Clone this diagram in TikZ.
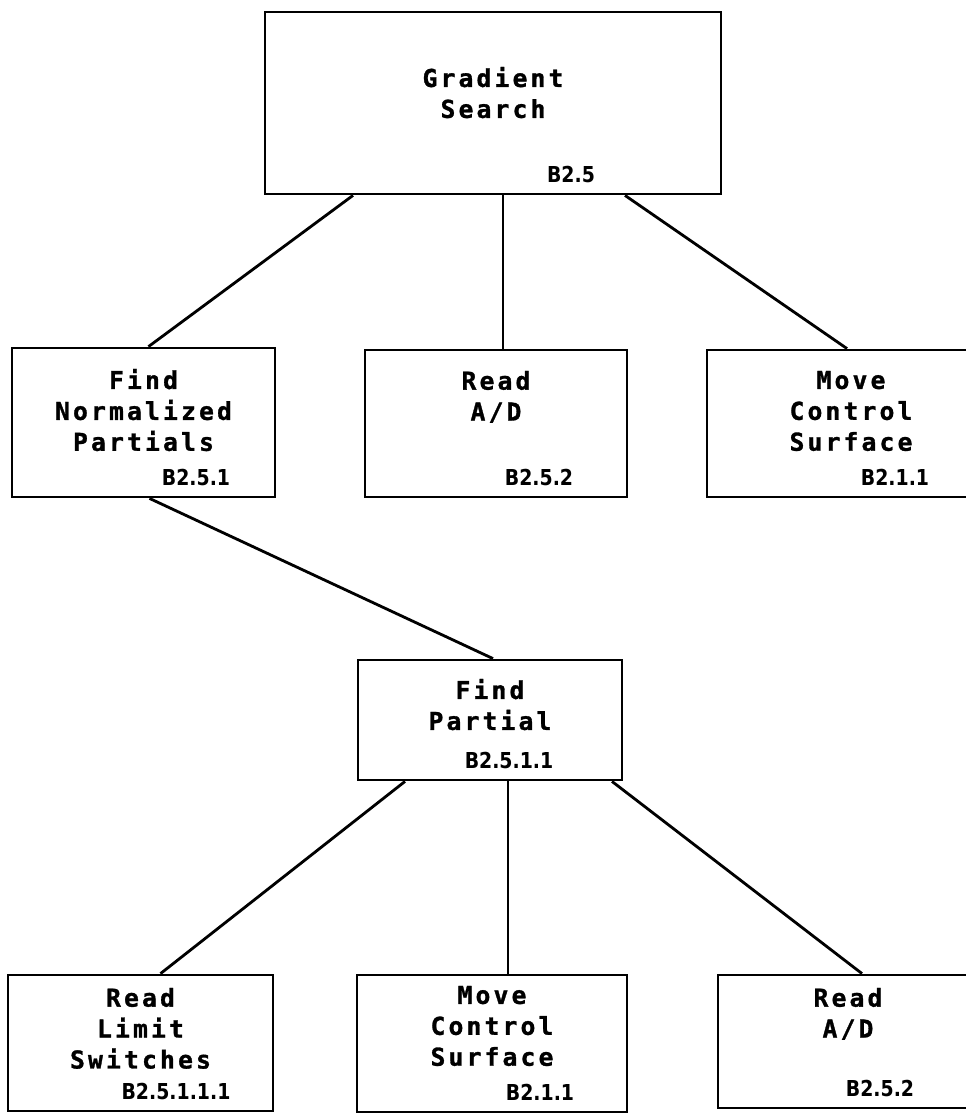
\documentclass[tikz,border=0pt]{standalone}
\usepackage{fontspec}
\usepackage{tikz}
\usetikzlibrary{calc}
\newfontfamily\printfont{DejaVu Sans Mono Bold}[LetterSpace=13, FakeBold=1.2]
\newfontfamily\codefont{DejaVu Sans Bold}[FakeStretch=0.86]

\begin{document}
\begin{tikzpicture}[x=0.02cm, y=-0.02cm,
    modbox/.style={draw, line width=1.6pt, inner sep=0pt},
    title/.style={font=\printfont\fontsize{14}{17.6}\selectfont, align=center, inner sep=0pt},
    idlabel/.style={font=\codefont\fontsize{12.5}{12.5}\selectfont, inner sep=0pt},
    link/.style={line width=1.6pt}]

    % 画布大小（像素坐标，y 轴向下）
    \useasboundingbox (0,0) rectangle (966,1119);
    \fill[white] (0,0) rectangle (966,1119);

    % --- 宏：画一个模块框 ---
    % #1 节点名, #2/#3 左上角, #4/#5 右下角, #6 标题下移量, #7 标题, #8 编号中心 x, #9 编号
    \newcommand{\modbox}[9]{
        \pgfmathsetmacro{\bw}{(#4-#2)*0.02}
        \pgfmathsetmacro{\bh}{(#5-#3)*0.02}
        \node[modbox, minimum width=\bw cm, minimum height=\bh cm] (#1) at ({(#2+#4)/2},{(#3+#5)/2}) {};
        \node[title, anchor=north] (#1-t) at ($(#1.north)+(0,#6)$) {#7};
        \node[idlabel, anchor=base] (#1-n) at (#8,{#5-12}) {#9};
    }

    % --- 第一层 ---
    \modbox{gs}{265}{12}{721}{194}{56}{Gradient\\Search}{571}{B2.5}

    % --- 第二层 ---
    \modbox{fnp}{12}{348}{275}{497}{22}{Find\\Normalized\\Partials}{196}{B2.5.1}
    \modbox{rad}{365}{350}{627}{497}{22}{Read\\A/D}{539}{B2.5.2}
    \modbox{mcs}{707}{350}{995}{497}{22}{Move\\Control\\Surface}{895}{B2.1.1}

    % --- 第三层 ---
    \modbox{fp}{358}{660}{622}{780}{20}{Find\\Partial}{509}{B2.5.1.1}

    % --- 第四层 ---
    \modbox{rls}{8}{975}{273}{1111}{14}{Read\\Limit\\Switches}{176}{B2.5.1.1.1}
    \modbox{mcsb}{357}{975}{627}{1112}{12}{Move\\Control\\Surface}{540}{B2.1.1}
    \modbox{radb}{718}{975}{978}{1108}{14}{Read\\A/D}{880}{B2.5.2}

    % --- 连线 ---
    \draw[link] ($(gs.south)+(-140,0)$) -- ($(fnp.north)+(5,0)$);
    \draw[link] ($(gs.south)+(10,0)$) -- ($(rad.north)+(7,0)$);
    \draw[link] ($(gs.south)+(132,0)$) -- ($(mcs.north)+(-4,0)$);
    \draw[link] ($(fnp.south)+(6,0)$) -- ($(fp.north)+(3,0)$);
    \draw[link] ($(fp.south)+(-85,0)$) -- ($(rls.north)+(20,0)$);
    \draw[link] ($(fp.south)+(18,0)$) -- ($(mcsb.north)+(16,0)$);
    \draw[link] ($(fp.south)+(122,0)$) -- ($(radb.north)+(14,0)$);

\end{tikzpicture}
\end{document}
